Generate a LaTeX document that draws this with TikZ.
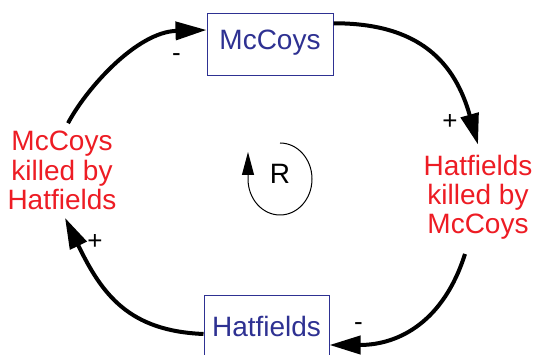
\documentclass[tikz,border=0pt]{standalone}
\usepackage{fontspec}
\setmainfont{Liberation Sans}
\usetikzlibrary{arrows.meta,calc}
\definecolor{vblue}{RGB}{46,49,146}
\definecolor{vred}{RGB}{237,28,36}
\begin{document}
\begin{tikzpicture}[x=1pt,y=1pt,
  stock/.style={draw=vblue, line width=1pt, text=vblue, minimum width=126pt, minimum height=62pt, inner sep=0pt, font=\fontsize{28}{29.4}\selectfont},
  aux/.style={text=vred, align=center, inner sep=0pt, font=\fontsize{28}{29.4}\selectfont},
  link/.style={line width=4pt, -{Triangle[length=31pt,width=18pt]}},
  pol/.style={inner sep=0pt, anchor=base, font=\fontsize{26}{28}\selectfont}]
\useasboundingbox (0,0) rectangle (534,355);
\node[stock, text height=20pt, text depth=10pt] (mc) at (270,310) {McCoys};
\node[stock, minimum width=125pt] (hf) at (266.5,28.3) {Hatfields};
\node[aux] (lk) at (62,184.3) {McCoys\\killed by\\Hatfields};
\node[aux] (rk) at (478,157.7) {Hatfields\\killed by\\McCoys};
\draw[link] ($(lk.north)+(6,8)$) .. controls (86.8,267.2) and (137,323) .. ([yshift=15pt]mc.west);
\draw[link] ([yshift=21.7pt]mc.east) .. controls (420,332) and (455,292) .. ($(rk.north)+(0,10)$);
\draw[link] ($(rk.south)+(-13,-14)$) .. controls (444,34.5) and (400,10) .. ([yshift=-18.3pt]hf.east);
\draw[link] ([yshift=-7.3pt]hf.west) .. controls (129,24) and (102,60.4) .. ($(lk.south)+(3,-7.6)$);
\node[inner sep=0pt, font=\fontsize{28}{30}\selectfont] (loopR) at (280,180.7) {R};
\draw[line width=1pt, -{Triangle[length=23pt,width=12pt]}] (280,212) arc[start angle=90, end angle=-180, x radius=32, y radius=36] -- ++(0,27);
\node[pol] (p1) at (176.5,293.7) {-};
\node[pol] (p2) at (450,225.9) {+};
\node[pol] (p3) at (358.5,24.7) {-};
\node[pol] (p4) at (95,105.9) {+};
\end{tikzpicture}
\end{document}
